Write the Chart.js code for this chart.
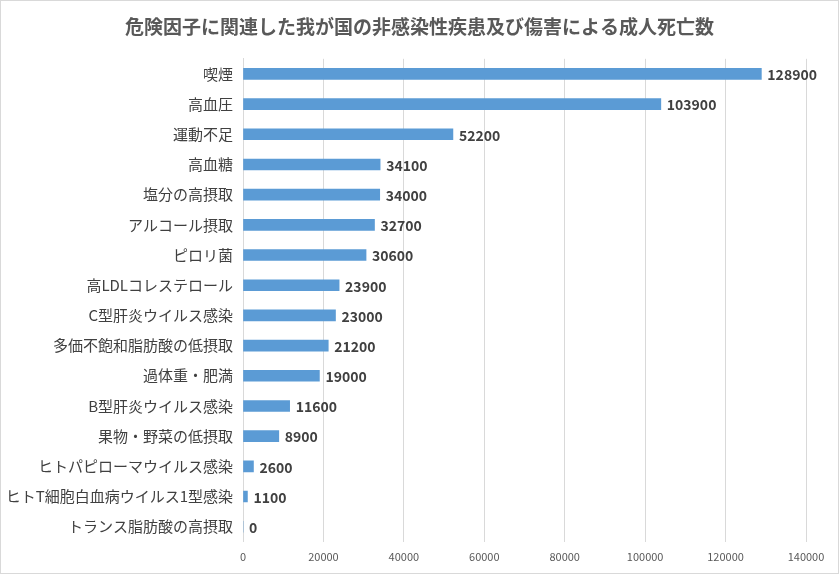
<!DOCTYPE html>
<html>
<head>
<meta charset="utf-8">
<script src="https://cdn.jsdelivr.net/npm/chart.js@4/dist/chart.umd.min.js"></script>
<style>
  body { margin: 0; background: #fff; }
  #wrap { position: relative; width: 837px; height: 572px; border: 1px solid #d9d9d9; }
</style>
</head>
<body>
<div id="wrap"><canvas id="chart"></canvas></div>
<script>
const chartTitle = '危険因子に関連した我が国の非感染性疾患及び傷害による成人死亡数';

const riskFactors = [
	'喫煙',
	'高血圧',
	'運動不足',
	'高血糖',
	'塩分の高摂取',
	'アルコール摂取',
	'ピロリ菌',
	'高LDLコレステロール',
	'C型肝炎ウイルス感染',
	'多価不飽和脂肪酸の低摂取',
	'過体重・肥満',
	'B型肝炎ウイルス感染',
	'果物・野菜の低摂取',
	'ヒトパピローマウイルス感染',
	'ヒトT細胞白血病ウイルス1型感染',
	'トランス脂肪酸の高摂取',
];

const deaths = [128900, 103900, 52200, 34100, 34000, 32700, 30600, 23900, 23000, 21200, 19000, 11600, 8900, 2600, 1100, 0];

const xTicks = [0, 20000, 40000, 60000, 80000, 100000, 120000, 140000];

const jpFont = '"Noto Sans CJK JP", "Noto Sans", sans-serif';

// draws the value next to each bar
const valueLabels = {
	id: 'valueLabels',
	afterDatasetsDraw(chart) {
		const { ctx } = chart;
		const meta = chart.getDatasetMeta(0);
		ctx.save();
		ctx.font = 'bold 14px ' + jpFont;
		ctx.fillStyle = '#404040';
		ctx.textBaseline = 'middle';
		ctx.textAlign = 'left';
		meta.data.forEach((bar, i) => {
			ctx.fillText(String(deaths[i]), bar.x + 6, bar.y + 1);
		});
		ctx.restore();
	},
};

new Chart(document.getElementById('chart'), {
	type: 'bar',
	data: {
		labels: riskFactors,
		datasets: [
			{
				data: deaths,
				backgroundColor: '#5b9bd5',
				barThickness: 11,
			},
		],
	},
	options: {
		indexAxis: 'y',
		responsive: true,
		maintainAspectRatio: false,
		animation: false,
		layout: {
			padding: { left: 0, right: 0, top: 0, bottom: 2 },
		},
		plugins: {
			legend: { display: false },
			tooltip: { enabled: false },
			title: {
				display: true,
				text: chartTitle,
				color: '#595959',
				font: { family: jpFont, size: 19, weight: 'bold' },
				padding: { top: 14, bottom: 21 },
			},
		},
		scales: {
			x: {
				min: 0,
				max: 140000,
				afterBuildTicks: (axis) => {
					axis.ticks = xTicks.map((v) => ({ value: v }));
				},
				// room on the right for the value labels, title stays centred
				afterFit: (axis) => {
					axis.paddingRight = 32;
				},
				grid: { color: '#d9d9d9', drawTicks: false },
				border: { display: false },
				ticks: {
					color: '#595959',
					font: { family: jpFont, size: 11 },
					padding: 8,
					callback: (value) => String(value),
				},
			},
			y: {
				grid: { display: false, drawTicks: false },
				border: { color: '#d9d9d9' },
				afterFit: (axis) => {
					axis.width = 242;
				},
				ticks: {
					color: '#404040',
					font: { family: jpFont, size: 15 },
					padding: 10,
				},
			},
		},
	},
	plugins: [valueLabels],
});
</script>
</body>
</html>
